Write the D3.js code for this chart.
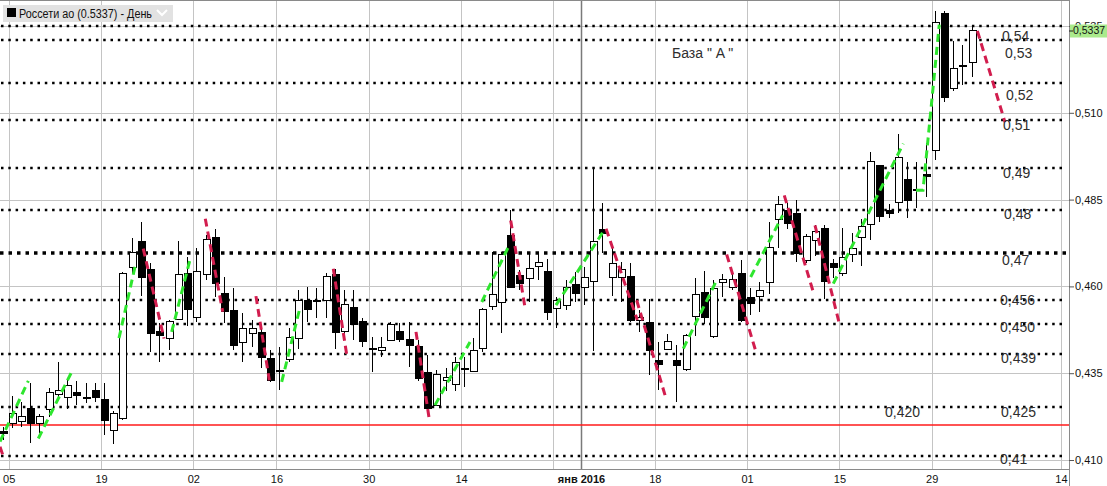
<!DOCTYPE html>
<html>
<head>
<meta charset="utf-8">
<script src="https://d3js.org/d3.v7.min.js"></script>
<style>
  body { margin: 0; background: #fff; }
  svg { display: block; }
  text { font-family: "Liberation Sans", Arial, sans-serif; }
</style>
</head>
<body>
<svg id="chart" width="1107" height="486"></svg>
<script>
'use strict';

// daily candles (index 0 = first visible bar)
const opens = [
  0.4183, 0.4204, 0.4210, 0.4249, 0.4206, 0.4246, 0.4290, 0.4280, 0.4295, 0.4280,
  0.4300, 0.4275, 0.4185, 0.4220, 0.4654, 0.4730, 0.4649, 0.4469, 0.4450, 0.4505,
  0.4637, 0.4510, 0.4634, 0.4740, 0.4579, 0.4531, 0.4439, 0.4464, 0.4467, 0.4392,
  0.4356, 0.4390, 0.4450, 0.4560, 0.4558, 0.4560, 0.4635, 0.4469, 0.4539, 0.4498,
  0.4421, 0.4416, 0.4445, 0.4469, 0.4448, 0.4428, 0.4352, 0.4258, 0.4328, 0.4318,
  0.4364, 0.4354, 0.4421, 0.4541, 0.4554, 0.4747, 0.4632, 0.4623, 0.4658, 0.4642,
  0.4536, 0.4544, 0.4606, 0.4598, 0.4613, 0.4763, 0.4627, 0.4625, 0.4629, 0.4501,
  0.4496, 0.4388, 0.4418, 0.4388, 0.4361, 0.4512, 0.4582, 0.4455, 0.4612, 0.4597,
  0.4637, 0.4568, 0.4572, 0.4610, 0.4792, 0.4819, 0.4810, 0.4675, 0.4733, 0.4766,
  0.4666, 0.4637, 0.4692, 0.4740, 0.4779, 0.4948, 0.4819, 0.4843, 0.4908, 0.4879,
  0.4923, 0.4992, 0.5386, 0.5170, 0.5236, 0.5246
];
const highs = [
  0.4195, 0.4284, 0.4268, 0.4323, 0.4232, 0.4307, 0.4383, 0.4330, 0.4328, 0.4321,
  0.4321, 0.4321, 0.4241, 0.4641, 0.4739, 0.4785, 0.4667, 0.4494, 0.4503, 0.4731,
  0.4685, 0.4712, 0.4747, 0.4766, 0.4627, 0.4594, 0.4522, 0.4503, 0.4488, 0.4416,
  0.4426, 0.4480, 0.4589, 0.4598, 0.4594, 0.4639, 0.4651, 0.4589, 0.4589, 0.4508,
  0.4455, 0.4455, 0.4498, 0.4495, 0.4497, 0.4445, 0.4402, 0.4359, 0.4364, 0.4397,
  0.4397, 0.4450, 0.4539, 0.4699, 0.4698, 0.4821, 0.4646, 0.4694, 0.4699, 0.4680,
  0.4570, 0.4618, 0.4642, 0.4656, 0.4944, 0.4839, 0.4718, 0.4669, 0.4667, 0.4531,
  0.4565, 0.4440, 0.4464, 0.4431, 0.4464, 0.4623, 0.4644, 0.4618, 0.4637, 0.4638,
  0.4675, 0.4595, 0.4613, 0.4785, 0.4859, 0.4839, 0.4850, 0.4750, 0.4776, 0.4776,
  0.4680, 0.4769, 0.4754, 0.4795, 0.4987, 0.4950, 0.4838, 0.5038, 0.4957, 0.4957,
  0.5013, 0.5393, 0.5392, 0.5308, 0.5295, 0.5353
];
const lows = [
  0.4158, 0.4192, 0.4194, 0.4150, 0.4177, 0.4225, 0.4273, 0.4246, 0.4258, 0.4265,
  0.4268, 0.4172, 0.4145, 0.4215, 0.4635, 0.4572, 0.4411, 0.4383, 0.4416, 0.4503,
  0.4485, 0.4498, 0.4618, 0.4570, 0.4494, 0.4416, 0.4383, 0.4426, 0.4364, 0.4324,
  0.4301, 0.4382, 0.4421, 0.4498, 0.4508, 0.4508, 0.4421, 0.4460, 0.4445, 0.4426,
  0.4354, 0.4397, 0.4442, 0.4439, 0.4368, 0.4327, 0.4247, 0.4255, 0.4299, 0.4299,
  0.4311, 0.4353, 0.4411, 0.4531, 0.4466, 0.4596, 0.4589, 0.4555, 0.4618, 0.4503,
  0.4479, 0.4531, 0.4555, 0.4546, 0.4414, 0.4696, 0.4572, 0.4555, 0.4497, 0.4469,
  0.4344, 0.4301, 0.4416, 0.4268, 0.4357, 0.4457, 0.4493, 0.4450, 0.4570, 0.4589,
  0.4497, 0.4517, 0.4527, 0.4579, 0.4712, 0.4766, 0.4670, 0.4667, 0.4687, 0.4565,
  0.4623, 0.4629, 0.4669, 0.4658, 0.4735, 0.4785, 0.4798, 0.4811, 0.4798, 0.4827,
  0.4857, 0.4965, 0.5130, 0.5163, 0.5180, 0.5202
];
const closes = [
  0.4175, 0.4235, 0.4225, 0.4204, 0.4225, 0.4294, 0.4300, 0.4315, 0.4285, 0.4281,
  0.4280, 0.4213, 0.4234, 0.4637, 0.4697, 0.4627, 0.4464, 0.4460, 0.4498, 0.4635,
  0.4533, 0.4644, 0.4735, 0.4608, 0.4529, 0.4429, 0.4479, 0.4479, 0.4395, 0.4329,
  0.4357, 0.4453, 0.4560, 0.4533, 0.4559, 0.4629, 0.4466, 0.4548, 0.4491, 0.4440,
  0.4420, 0.4424, 0.4490, 0.4447, 0.4431, 0.4335, 0.4249, 0.4346, 0.4338, 0.4380,
  0.4363, 0.4416, 0.4533, 0.4577, 0.4692, 0.4598, 0.4608, 0.4651, 0.4669, 0.4524,
  0.4560, 0.4597, 0.4579, 0.4627, 0.4730, 0.4752, 0.4667, 0.4648, 0.4501, 0.4510,
  0.4414, 0.4376, 0.4440, 0.4373, 0.4460, 0.4577, 0.4509, 0.4594, 0.4620, 0.4620,
  0.4501, 0.4551, 0.4587, 0.4712, 0.4835, 0.4782, 0.4696, 0.4744, 0.4757, 0.4613,
  0.4654, 0.4683, 0.4709, 0.4773, 0.4961, 0.4802, 0.4810, 0.4972, 0.4846, 0.4880,
  0.4917, 0.5361, 0.5144, 0.5227, 0.5237, 0.5337
];

// date axis: bar index of each grid line and its label
const xTickIdx = [1, 11, 21, 30, 40, 50, 60, 63, 71, 81, 91, 101, 115];
const xTickLabels = ["05", "19", "02", "16", "30", "14", "", "янв 2016", "18", "01", "15", "29", "14"];
const yearIdx = 63;

const yTicks = [0.410, 0.435, 0.460, 0.485, 0.510, 0.535];
const lastPrice = 0.5337;

// hand drawn levels
const dotLevels = [0.5350, 0.5310, 0.5185, 0.5080, 0.4942, 0.4819, 0.4562, 0.4493, 0.4404, 0.4252, 0.4112];
const boldLevel = 0.4697;
const redLevel = 0.4201;

const noteTexts = ["0,54", "0,53", "0,52", "0,51", "0,49", "0,48", "0,47", "0,456", "0,450", "0,439", "0,425", "0,41", "0,420", "База \" A \""];
const notePrices = [0.5322, 0.5272, 0.5151, 0.5065, 0.4928, 0.4808, 0.4677, 0.4560, 0.4484, 0.4393, 0.4238, 0.4103, 0.4238, 0.5273];

// trend strokes as [bar index, price]
const greenLines = [
  [[-0.27, 0.4153], [2.80, 0.4328]],
  [[3.88, 0.4162], [7.50, 0.4354]],
  [[12.62, 0.4451], [14.46, 0.4669]],
  [[18.33, 0.4469], [20.39, 0.4685]],
  [[30.25, 0.4325], [32.23, 0.4539]],
  [[46.86, 0.4258], [50.65, 0.4440]],
  [[51.92, 0.4555], [54.98, 0.4723]],
  [[59.97, 0.4546], [65.28, 0.4766]],
  [[73.76, 0.4421], [77.38, 0.4618]],
  [[81.06, 0.4627], [84.53, 0.4805]],
  [[90.01, 0.4608], [97.59, 0.5011]],
  [[98.97, 0.4877], [99.73, 0.4877], [101.49, 0.5354]]
];
const redLines = [
  [[-0.27, 0.4138], [0.10, 0.4109]],
  [[15.25, 0.4709], [17.50, 0.4450]],
  [[21.97, 0.4795], [23.86, 0.4527]],
  [[27.46, 0.4572], [28.91, 0.4330]],
  [[35.84, 0.4651], [37.36, 0.4392]],
  [[44.80, 0.4469], [46.24, 0.4217]],
  [[55.06, 0.4790], [56.61, 0.4539]],
  [[65.39, 0.4766], [68.78, 0.4503]],
  [[68.71, 0.4560], [71.78, 0.4287]],
  [[78.46, 0.4692], [81.64, 0.4411]],
  [[84.70, 0.4862], [87.84, 0.4584]],
  [[88.03, 0.4776], [90.66, 0.4493]],
  [[105.62, 0.5336], [108.61, 0.5073]]
];

const svg = d3.select('#chart');
const plotRight = 1069;
const plotBottom = 469;
const gridOff = -3;

const x = d3.scaleLinear().domain([0, 115]).range([2.5, 2.5 + 115 * 9.23]);
const y = d3.scaleLinear().domain([0.410, 0.535]).range([460, 26]);

const candles = opens.map((o, i) => ({ i, o, h: highs[i], l: lows[i], c: closes[i] }));

// grid
svg.append('g')
  .selectAll('line')
  .data(yTicks)
  .enter()
  .append('line')
  .attr('x1', 0).attr('x2', plotRight)
  .attr('y1', d => Math.round(y(d)) + 0.5).attr('y2', d => Math.round(y(d)) + 0.5)
  .attr('stroke', '#c4c4c4');

svg.append('g')
  .selectAll('line')
  .data(xTickIdx)
  .enter()
  .append('line')
  .attr('x1', d => Math.round(x(d) + gridOff) + 0.5).attr('x2', d => Math.round(x(d) + gridOff) + 0.5)
  .attr('y1', 0).attr('y2', plotBottom)
  .attr('stroke', d => d === yearIdx ? '#7a7a7a' : '#c4c4c4')
  .attr('stroke-width', d => d === yearIdx ? 1.5 : 1);

// borders
svg.append('line').attr('x1', 0).attr('x2', plotRight).attr('y1', 0.5).attr('y2', 0.5).attr('stroke', '#8a8a8a');
svg.append('line').attr('x1', 0).attr('x2', plotRight).attr('y1', plotBottom + 0.5).attr('y2', plotBottom + 0.5).attr('stroke', '#8a8a8a');
svg.append('line').attr('x1', plotRight + 0.5).attr('x2', plotRight + 0.5).attr('y1', 0).attr('y2', 486).attr('stroke', '#8a8a8a');

// levels
svg.append('g')
  .selectAll('line')
  .data(dotLevels)
  .enter()
  .append('line')
  .attr('x1', 1).attr('x2', 1066)
  .attr('y1', d => Math.round(y(d))).attr('y2', d => Math.round(y(d)))
  .attr('stroke', '#000')
  .attr('stroke-width', 2.5)
  .attr('stroke-dasharray', '2.5,4.8');

svg.append('line')
  .attr('x1', 0).attr('x2', 1066)
  .attr('y1', Math.round(y(boldLevel))).attr('y2', Math.round(y(boldLevel)))
  .attr('stroke', '#000')
  .attr('stroke-width', 3.5)
  .attr('stroke-dasharray', '3.5,5');

svg.append('line')
  .attr('x1', 0).attr('x2', plotRight)
  .attr('y1', y(redLevel)).attr('y2', y(redLevel))
  .attr('stroke', '#ff1a1a')
  .attr('stroke-width', 1.6);

// candles
const cg = svg.append('g').attr('shape-rendering', 'crispEdges');
cg.selectAll('line')
  .data(candles)
  .enter()
  .append('line')
  .attr('x1', d => Math.round(x(d.i)) + 0.5).attr('x2', d => Math.round(x(d.i)) + 0.5)
  .attr('y1', d => y(d.h)).attr('y2', d => y(d.l))
  .attr('stroke', '#000');

cg.selectAll('rect')
  .data(candles)
  .enter()
  .append('rect')
  .attr('x', d => Math.round(x(d.i)) - 3)
  .attr('width', 7)
  .attr('y', d => y(Math.max(d.o, d.c)))
  .attr('height', d => Math.max(1, Math.abs(y(d.o) - y(d.c))))
  .attr('fill', d => d.c >= d.o ? '#fff' : '#000')
  .attr('stroke', '#000');

// trend strokes
const line = d3.line().x(d => x(d[0])).y(d => y(d[1]));
svg.append('g')
  .selectAll('path')
  .data(greenLines)
  .enter()
  .append('path')
  .attr('d', line)
  .attr('fill', 'none')
  .attr('stroke', '#2ee62e')
  .attr('stroke-width', 3)
  .attr('stroke-dasharray', '8,5');
svg.append('g')
  .selectAll('path')
  .data(redLines)
  .enter()
  .append('path')
  .attr('d', line)
  .attr('fill', 'none')
  .attr('stroke', '#d21d4e')
  .attr('stroke-width', 3)
  .attr('stroke-dasharray', '8,5');

// annotations
const noteX = [1002, 1005, 1006, 1003, 1003, 1004, 1002, 1000, 1000, 1001, 1001, 1000, 885, 672];
svg.append('g')
  .selectAll('text')
  .data(noteTexts)
  .enter()
  .append('text')
  .attr('x', (d, i) => noteX[i])
  .attr('y', (d, i) => y(notePrices[i]))
  .attr('dy', '0.36em')
  .attr('font-size', 14)
  .attr('fill', '#2e2e2e')
  .text(d => d);

// right price axis
const yAxis = d3.axisRight(y)
  .tickValues(yTicks)
  .tickSize(5)
  .tickFormat(d => d3.format('.3f')(d).replace('.', ','));
const ya = svg.append('g')
  .attr('transform', `translate(${plotRight},0)`)
  .call(yAxis);
ya.select('.domain').remove();
ya.selectAll('line').attr('stroke', '#555');
ya.selectAll('text')
  .attr('x', 6)
  .attr('font-size', 11)
  .attr('font-family', '"Liberation Sans", Arial, sans-serif')
  .attr('fill', '#111');

// last price box
const lp = svg.append('g').attr('transform', `translate(${plotRight},${y(lastPrice)})`);
lp.append('rect').attr('x', 1).attr('y', -6).attr('width', 38).attr('height', 13).attr('fill', '#aaea8c');
lp.append('line').attr('x1', 0).attr('x2', 4).attr('y1', 0.5).attr('y2', 0.5).attr('stroke', '#222');
lp.append('text').attr('x', 4).attr('dy', '0.36em').attr('font-size', 10.5).attr('fill', '#111')
  .text(String(lastPrice).replace('.', ','));

// bottom date axis
const xAxis = d3.axisBottom(x)
  .tickValues(xTickIdx)
  .tickSize(0)
  .tickPadding(6)
  .tickFormat((d, i) => xTickLabels[i]);
const xa = svg.append('g')
  .attr('transform', `translate(${gridOff},${plotBottom})`)
  .call(xAxis);
xa.select('.domain').remove();
xa.selectAll('text')
  .attr('font-size', 11)
  .attr('font-family', '"Liberation Sans", Arial, sans-serif')
  .attr('fill', '#111')
  .attr('font-weight', d => d === yearIdx ? 'bold' : 'normal');

// title tab
const tt = svg.append('g');
tt.append('rect').attr('x', 3).attr('y', 5).attr('width', 170).attr('height', 17).attr('fill', '#e2e2e2');
tt.append('rect').attr('x', 7).attr('y', 8).attr('width', 9).attr('height', 9).attr('fill', '#000');
tt.append('text').attr('x', 19).attr('y', 17.5).attr('font-size', 12).attr('fill', '#111')
  .attr('textLength', 133).attr('lengthAdjust', 'spacingAndGlyphs')
  .text('Россети ао (0.5337) - День');
tt.append('path').attr('d', 'M157,10 L162,15 L167,10').attr('fill', 'none')
  .attr('stroke', '#fff').attr('stroke-width', 2);
</script>
</body>
</html>
